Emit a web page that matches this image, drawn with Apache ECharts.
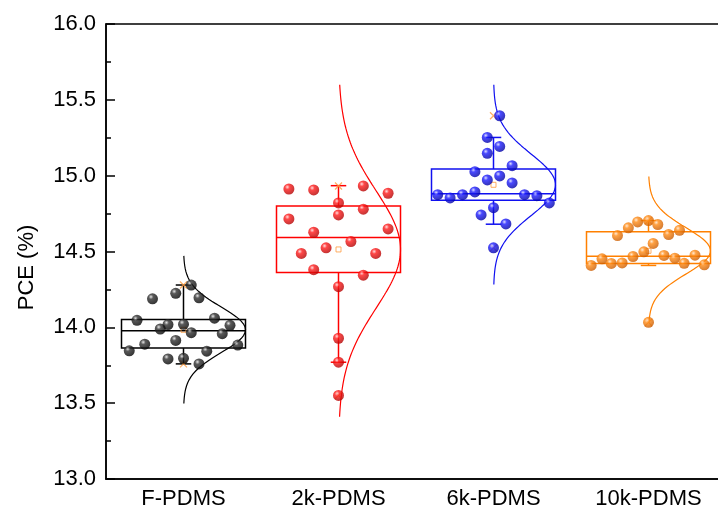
<!DOCTYPE html>
<html>
<head>
<meta charset="utf-8">
<script src="https://cdn.jsdelivr.net/npm/echarts@6/dist/echarts.min.js"></script>
<style>
    html, body { margin: 0; padding: 0; background: #fff; }
    #main { width: 718px; height: 515px; }
</style>
</head>
<body>
<div id="main"></div>
<script>
// groups along the x axis
const categories = ['F-PDMS', '2k-PDMS', '6k-PDMS', '10k-PDMS'];

// PCE values (%) of each device
const pceF = [14.279, 14.224, 14.188, 14.195, 14.046, 14.060, 14.018, 14.020, 13.989, 14.013,
    13.965, 13.958, 13.914, 13.889, 13.845, 13.883, 13.843, 13.792, 13.796, 13.759];
const pce2k = [14.912, 14.906, 14.932, 14.884, 14.820, 14.779, 14.715, 14.741, 14.627, 14.649,
    14.566, 14.524, 14.487, 14.487, 14.380, 14.344, 14.268, 13.928, 13.770, 13.551];
const pce6k = [15.395, 15.252, 15.193, 15.147, 15.066, 15.026, 14.972, 14.998, 14.952, 14.893,
    14.875, 14.853, 14.875, 14.875, 14.868, 14.820, 14.789, 14.741, 14.682, 14.524];
const pce10k = [14.408, 14.452, 14.421, 14.425, 14.605, 14.656, 14.695, 14.704, 14.678, 14.612,
    14.640, 14.467, 14.498, 14.553, 14.474, 14.456, 14.422, 14.476, 14.412, 14.033];

// horizontal scatter of each dot inside its band (category units)
const jitterF = [0.05, -0.05, -0.2, 0.1, -0.3, 0.2, -0.1, 0, -0.15, 0.3,
    0.05, 0.25, -0.05, -0.25, -0.35, 0.35, 0.15, -0.1, 0, 0.1];
const jitter2k = [-0.32, -0.16, 0.16, 0.32, 0, 0.16, -0.32, 0, -0.16, 0.32,
    0.08, -0.08, -0.24, 0.24, -0.16, 0.16, 0, 0, 0, 0];
const jitter6k = [0.04, -0.04, 0.04, -0.04, 0.12, -0.12, -0.04, 0.04, 0.12, -0.12,
    -0.36, -0.28, -0.2, 0.2, 0.28, 0.36, 0, -0.08, 0.08, 0];
const jitter10k = [-0.37, -0.3, -0.24, -0.17, -0.2, -0.13, -0.07, 0, 0.06, 0.13,
    0.2, -0.1, -0.03, 0.03, 0.1, 0.17, 0.23, 0.3, 0.36, 0];

// box statistics: [lower whisker, Q1, median, Q3, upper whisker]
const boxF = [13.759, 13.863, 13.978, 14.051, 14.279];
const box2k = [13.770, 14.362, 14.592, 14.800, 14.934];
const box6k = [14.680, 14.838, 14.880, 15.044, 15.252];
const box10k = [14.408, 14.421, 14.469, 14.630, 14.704];

// vertical extent of each normal curve
const curveF = [13.498, 14.471];
const curve2k = [13.41, 15.60];
const curve6k = [14.283, 15.60];
const curve10k = [14.031, 14.995];

const yTicks = [13.0, 13.5, 14.0, 14.5, 15.0, 15.5, 16.0];

const groups = [
    {pce: pceF, jit: jitterF, box: boxF, curve: curveF},
    {pce: pce2k, jit: jitter2k, box: box2k, curve: curve2k},
    {pce: pce6k, jit: jitter6k, box: box6k, curve: curve6k},
    {pce: pce10k, jit: jitter10k, box: box10k, curve: curve10k}
];

const lineColors = ['#000000', '#ff0000', '#1010f0', '#ff8000'];
const ballStops = [
    ['#e0e0e0', '#303030', '#000000'],
    ['#ffd6d6', '#ff1a1a', '#b00000'],
    ['#d6d6ff', '#1c1cff', '#0000a0'],
    ['#ffe4c8', '#ff8a14', '#c85a00']
];
const markColor = '#ff9a3c';

function ball(stops) {
    return {
        type: 'radial', x: 0.36, y: 0.32, r: 0.72,
        colorStops: [
            {offset: 0, color: stops[0]},
            {offset: 0.3, color: stops[1]},
            {offset: 1, color: stops[2]}
        ]
    };
}

function mean(a) {
    return a.reduce((s, v) => s + v, 0) / a.length;
}

function sd(a) {
    let m = mean(a);
    return Math.sqrt(a.reduce((s, v) => s + (v - m) * (v - m), 0) / (a.length - 1));
}

var chart = echarts.init(document.getElementById('main'));

var series = [];

// boxes with whiskers
series.push({
    type: 'custom',
    xAxisIndex: 1,
    silent: true,
    z: 2,
    encode: {x: 0, y: [1, 2, 3, 4, 5]},
    data: groups.map((g, i) => [i].concat(g.box)),
    renderItem: function (params, api) {
        let i = api.value(0);
        let lo = api.value(1), q1 = api.value(2), med = api.value(3), q3 = api.value(4), hi = api.value(5);
        let col = lineColors[params.dataIndex];
        let st = {stroke: col, lineWidth: 1.5, fill: null};
        let pL = api.coord([i - 0.4, q3]);
        let pR = api.coord([i + 0.4, q1]);
        let line = function (x1, v1, x2, v2) {
            let a = api.coord([x1, v1]), b = api.coord([x2, v2]);
            return {type: 'line', shape: {x1: a[0], y1: a[1], x2: b[0], y2: b[1]}, style: st};
        };
        return {
            type: 'group',
            children: [
                {type: 'rect', shape: {x: pL[0], y: pL[1], width: pR[0] - pL[0], height: pR[1] - pL[1]}, style: st},
                line(i - 0.4, med, i + 0.4, med),
                line(i, q3, i, hi),
                line(i, q1, i, lo),
                line(i - 0.05, hi, i + 0.05, hi),
                line(i - 0.05, lo, i + 0.05, lo)
            ]
        };
    }
});

groups.forEach(function (g, i) {
    let m = mean(g.pce), s = sd(g.pce);

    // fitted normal curve
    let pts = [];
    for (let k = 0; k <= 150; k++) {
        let v = g.curve[0] + (g.curve[1] - g.curve[0]) * k / 150;
        let z = (v - m) / s;
        pts.push([i + 0.4 * Math.exp(-z * z / 2), v]);
    }
    series.push({
        type: 'line',
        xAxisIndex: 1,
        data: pts,
        showSymbol: false,
        silent: true,
        z: 2,
        lineStyle: {color: lineColors[i], width: 1.2}
    });

    // min / max crosses
    series.push({
        type: 'scatter',
        xAxisIndex: 1,
        silent: true,
        z: 3,
        symbol: 'path://M0,0L10,10M10,0L0,10',
        symbolSize: 7,
        itemStyle: {color: 'transparent', borderColor: markColor, borderWidth: 1.2},
        data: [[i, Math.min.apply(null, g.pce)], [i, Math.max.apply(null, g.pce)]]
    });

    // mean square
    series.push({
        type: 'scatter',
        xAxisIndex: 1,
        silent: true,
        z: 3,
        symbol: 'rect',
        symbolSize: 5,
        itemStyle: {color: 'transparent', borderColor: markColor, borderWidth: 1},
        data: [[i, m]]
    });

    // the devices
    series.push({
        type: 'scatter',
        xAxisIndex: 1,
        z: 4,
        symbolSize: 11,
        itemStyle: {color: ball(ballStops[i])},
        data: g.pce.map((v, k) => [i + g.jit[k], v])
    });
});

option = {
    backgroundColor: '#fff',
    animation: false,
    textStyle: {fontFamily: 'Liberation Sans'},
    grid: {
        left: 106,
        top: 24,
        right: -8,
        bottom: 36,
        show: true,
        borderColor: '#000',
        borderWidth: 1.5,
        backgroundColor: 'transparent',
        outerBoundsMode: 'none'
    },
    xAxis: [{
        type: 'category',
        data: categories,
        boundaryGap: true,
        axisLine: {lineStyle: {color: '#000', width: 1.5}},
        axisTick: {alignWithLabel: true, inside: true, length: 9, lineStyle: {color: '#000', width: 1.5}},
        axisLabel: {color: '#000', fontSize: 22, margin: 9, fontFamily: 'Liberation Sans'},
        splitLine: {show: false}
    }, {
        type: 'value',
        min: -0.5,
        max: 3.5,
        show: false
    }],
    yAxis: {
        type: 'value',
        min: yTicks[0],
        max: yTicks[yTicks.length - 1],
        interval: 0.5,
        name: 'PCE (%)',
        nameLocation: 'middle',
        nameGap: 68,
        nameTextStyle: {color: '#000', fontSize: 22, fontFamily: 'Liberation Sans', padding: [0, 32, 0, 0]},
        axisLine: {show: true, onZero: false, lineStyle: {color: '#000', width: 1.5}},
        axisTick: {inside: true, length: 9, lineStyle: {color: '#000', width: 1.5}},
        minorTick: {show: true, splitNumber: 2, length: 5, lineStyle: {color: '#000', width: 1.5}},
        axisLabel: {
            color: '#000',
            fontSize: 22,
            margin: 10,
            fontFamily: 'Liberation Sans',
            formatter: function (v) { return v.toFixed(1); }
        },
        splitLine: {show: false}
    },
    series: series
};

chart.setOption(option);

window.onresize = function () {
    chart.resize();
}
</script>
</body>
</html>
